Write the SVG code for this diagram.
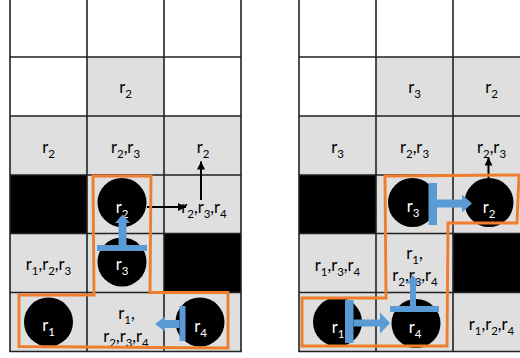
<svg xmlns="http://www.w3.org/2000/svg" width="520" height="358" viewBox="0 0 520 358">
  <defs>
    <style>
      .gray { fill: #dfdfdf; }
      .blk { fill: #000; }
      .grid { stroke: #222; stroke-width: 1.6; fill: none; }
      .lbl { font-family: Lato, "Liberation Sans", sans-serif; font-size: 16.5px; fill: #000; text-anchor: middle; }
      .rob text { font-family: Lato, "Liberation Sans", sans-serif; font-size: 16.5px; fill: #fff; text-anchor: middle; }
      .s { font-size: 11.5px; }
      .robot { fill: #000; }
      .move { fill: #5b9bd5; }
      .ptr { stroke: #000; stroke-width: 2; fill: none; marker-end: url(#head); }
      .form { fill: none; stroke: #f07d2c; stroke-width: 2.9; stroke-linejoin: miter; }
    </style>
    <marker id="head" markerUnits="userSpaceOnUse" markerWidth="9" markerHeight="9" refX="8" refY="4" orient="auto">
      <path d="M0,0 L8,4 L0,8 z" fill="#000"/>
    </marker>
  </defs>

  <rect width="520" height="358" fill="#fff"/>

  <!-- left grid: cell fills -->
  <g id="left-cells">
    <rect class="gray" x="87" y="57" width="77" height="59"/>
    <rect class="gray" x="10" y="116" width="231" height="235.5"/>
    <rect class="blk" x="10" y="175" width="77" height="58.5"/>
    <rect class="blk" x="164" y="233.5" width="77" height="59"/>
  </g>
  <!-- right grid: cell fills -->
  <g id="right-cells">
    <rect class="gray" x="376" y="57" width="154" height="59"/>
    <rect class="gray" x="299" y="116" width="231" height="235.5"/>
    <rect class="blk" x="299" y="175" width="77" height="58.5"/>
    <rect class="blk" x="453" y="233.5" width="77" height="59"/>
  </g>

  <!-- grid lines -->
  <g id="grid-lines" class="grid">
    <path d="M10,0 V351.5 M87,0 V351.5 M164,0 V351.5 M241,0 V351.5"/>
    <path d="M10,57 H241 M10,116 H241 M10,175 H241 M10,233.5 H241 M10,292.5 H241 M9.2,351.5 H241.8"/>
    <path d="M299,0 V351.5 M376,0 V351.5 M453,0 V351.5"/>
    <path d="M299,57 H520 M299,116 H520 M299,175 H520 M299,233.5 H520 M299,292.5 H520 M298.2,351.5 H520"/>
  </g>

  <!-- left grid: cell labels -->
  <g id="left-labels" class="lbl">
    <text x="125.5" y="93">r<tspan class="s" dy="5">2</tspan></text>
    <text x="48.5" y="153">r<tspan class="s" dy="5">2</tspan></text>
    <text x="125.5" y="153">r<tspan class="s" dy="5">2</tspan><tspan dy="-5">,r</tspan><tspan class="s" dy="5">3</tspan></text>
    <text x="203" y="153">r<tspan class="s" dy="5">2</tspan></text>
    <text x="204" y="213">r<tspan class="s" dy="5">2</tspan><tspan dy="-5">,r</tspan><tspan class="s" dy="5">3</tspan><tspan dy="-5">,r</tspan><tspan class="s" dy="5">4</tspan></text>
    <text x="48.5" y="270">r<tspan class="s" dy="5">1</tspan><tspan dy="-5">,r</tspan><tspan class="s" dy="5">2</tspan><tspan dy="-5">,r</tspan><tspan class="s" dy="5">3</tspan></text>
    <text x="126.5" y="319">r<tspan class="s" dy="5">1</tspan><tspan dy="-5">,</tspan></text>
    <text x="126" y="341.5">r<tspan class="s" dy="5">2</tspan><tspan dy="-5">,r</tspan><tspan class="s" dy="5">3</tspan><tspan dy="-5">,r</tspan><tspan class="s" dy="5">4</tspan></text>
  </g>

  <!-- right grid: cell labels -->
  <g id="right-labels" class="lbl">
    <text x="414.5" y="93">r<tspan class="s" dy="5">3</tspan></text>
    <text x="491.5" y="93">r<tspan class="s" dy="5">2</tspan></text>
    <text x="337.5" y="153">r<tspan class="s" dy="5">3</tspan></text>
    <text x="414.5" y="153">r<tspan class="s" dy="5">2</tspan><tspan dy="-5">,r</tspan><tspan class="s" dy="5">3</tspan></text>
    <text x="491.5" y="153">r<tspan class="s" dy="5">2</tspan><tspan dy="-5">,r</tspan><tspan class="s" dy="5">3</tspan></text>
    <text x="337.5" y="270.5">r<tspan class="s" dy="5">1</tspan><tspan dy="-5">,r</tspan><tspan class="s" dy="5">3</tspan><tspan dy="-5">,r</tspan><tspan class="s" dy="5">4</tspan></text>
    <text x="414.5" y="258.5">r<tspan class="s" dy="5">1</tspan><tspan dy="-5">,</tspan></text>
    <text x="415" y="281">r<tspan class="s" dy="5">2</tspan><tspan dy="-5">,r</tspan><tspan class="s" dy="5">3</tspan><tspan dy="-5">,r</tspan><tspan class="s" dy="5">4</tspan></text>
    <text x="491.5" y="329.5">r<tspan class="s" dy="5">1</tspan><tspan dy="-5">,r</tspan><tspan class="s" dy="5">2</tspan><tspan dy="-5">,r</tspan><tspan class="s" dy="5">4</tspan></text>
  </g>

  <!-- left grid: robots -->
  <g id="left-r2" class="rob"><circle class="robot" cx="122" cy="202.5" r="24.5"/><text x="122" y="212.5">r<tspan class="s" dy="5">2</tspan></text></g>
  <g id="left-r3" class="rob"><circle class="robot" cx="122" cy="262" r="24.5"/><text x="122" y="270">r<tspan class="s" dy="5">3</tspan></text></g>
  <g id="left-r1" class="rob"><circle class="robot" cx="48.5" cy="322" r="24.5"/><text x="48.5" y="331">r<tspan class="s" dy="5">1</tspan></text></g>
  <g id="left-r4" class="rob"><circle class="robot" cx="200" cy="322" r="24.5"/><text x="200.5" y="331.5">r<tspan class="s" dy="5">4</tspan></text></g>

  <!-- right grid: robots -->
  <g id="right-r3" class="rob"><circle class="robot" cx="412.5" cy="202.5" r="24.5"/><text x="413" y="212">r<tspan class="s" dy="5">3</tspan></text></g>
  <g id="right-r2" class="rob"><circle class="robot" cx="489" cy="202.5" r="24.5"/><text x="489" y="212.5">r<tspan class="s" dy="5">2</tspan></text></g>
  <g id="right-r1" class="rob"><circle class="robot" cx="337.5" cy="322" r="24.5"/><text x="338" y="332.5">r<tspan class="s" dy="5">1</tspan></text></g>
  <g id="right-r4" class="rob"><circle class="robot" cx="416" cy="323.5" r="24.5"/><text x="415" y="333">r<tspan class="s" dy="5">4</tspan></text></g>

  <!-- connectors -->
  <g id="connectors">
    <!-- visibility pointers -->
    <line class="ptr" x1="201" y1="200" x2="201" y2="161.5"/>
    <line class="ptr" x1="147" y1="207" x2="186" y2="207"/>
    <line class="ptr" x1="488.5" y1="178" x2="488.5" y2="157.5"/>

    <!-- moves: blocking bar plus arrow -->
    <g class="move">
      <rect x="97" y="245" width="50" height="6"/>
      <path d="M118.5,245 V223 H115 L122.5,214.5 L130,223 H126.5 V245 Z"/>

      <rect x="179.5" y="306" width="6" height="35"/>
      <path d="M179.5,320 H165 V316.5 L155,324 L165,331.5 V328 H179.5 Z"/>

      <rect x="428.5" y="183" width="8.5" height="42"/>
      <path d="M437,199.5 H462 V194.5 L472,203.5 L462,212.5 V207.5 H437 Z"/>

      <rect x="345" y="300" width="8.5" height="43"/>
      <path d="M353.5,319.5 H380 V312.5 L390,323 L380,333.5 V326.5 H353.5 Z"/>

      <rect x="390" y="306" width="49" height="6"/>
      <path d="M410,306 V283.5 H406.5 L413,275 L419.5,283.5 H416 V306 Z"/>
    </g>
  </g>

  <!-- formation outlines -->
  <g id="formations" class="form">
    <polygon points="93,176 151,176 150,292.5 228,292.5 228,348 19,346.5 19,295 94,295"/>
    <polygon points="385,176 519,175 517,223 448,223 447,346 302,346 302,298 386,298"/>
  </g>
</svg>
